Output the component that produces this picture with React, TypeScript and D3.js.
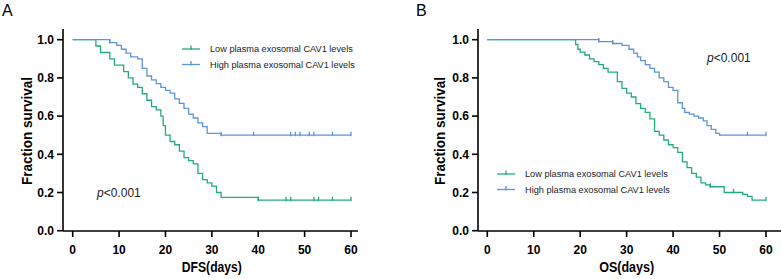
import React from "react";
import * as d3 from "d3";

// ---------- data ----------
const xTicks = [0, 10, 20, 30, 40, 50, 60];
const yTicks = [0, 0.2, 0.4, 0.6, 0.8, 1.0];

// Panel A (DFS)
const lowA_steps: [number, number][] = [
  [5, 0.967], [6, 0.933], [8, 0.9], [9, 0.867], [11, 0.833], [12, 0.8], [13, 0.767],
  [14, 0.75], [15, 0.717], [16, 0.683], [17, 0.65], [18, 0.633], [19, 0.6], [19.5, 0.55],
  [20, 0.5], [21, 0.467], [22, 0.45], [23, 0.417], [24, 0.383], [25, 0.367], [26, 0.35],
  [27, 0.3], [28, 0.267], [29, 0.25], [30, 0.233], [31, 0.2], [32, 0.175], [40, 0.16],
];
const lowA_censor = [40, 46, 47, 52, 53, 56, 60];
const highA_steps: [number, number][] = [
  [8, 0.985], [9.5, 0.97], [10.5, 0.95], [11.5, 0.93], [12.5, 0.91], [14, 0.9], [15, 0.85],
  [16, 0.81], [17, 0.79], [18, 0.77], [19, 0.75], [20, 0.735], [21, 0.72], [22, 0.69],
  [23, 0.667], [24, 0.64], [25, 0.61], [26, 0.59], [27, 0.565], [28, 0.545], [29, 0.51],
  [32, 0.5],
];
const highA_censor = [8, 32, 39, 47, 48, 49, 51, 52, 56, 60];

// Panel B (OS)
const lowB_steps: [number, number][] = [
  [19, 0.975], [19.5, 0.95], [20, 0.935], [21, 0.92], [22, 0.9], [23, 0.885], [24, 0.87],
  [25, 0.85], [26, 0.83], [28, 0.78], [29, 0.745], [30, 0.72], [31, 0.7], [32, 0.665],
  [33, 0.64], [34, 0.62], [35, 0.585], [36, 0.52], [37, 0.5], [38, 0.475], [39, 0.45],
  [40, 0.435], [41, 0.41], [42, 0.36], [43, 0.33], [44, 0.3], [45, 0.28], [46, 0.25],
  [47, 0.24], [48, 0.23], [51, 0.2], [55, 0.19], [56, 0.18], [57, 0.16],
];
const lowB_censor = [48, 53, 60];
const highB_steps: [number, number][] = [
  [24, 0.99], [27, 0.98], [29, 0.97], [30.5, 0.95], [31.5, 0.93], [32.3, 0.91], [33, 0.89],
  [34, 0.87], [35, 0.85], [36, 0.83], [37, 0.8], [38, 0.78], [39, 0.75], [40, 0.735],
  [41, 0.67], [42, 0.64], [42.5, 0.62], [43.5, 0.61], [44.5, 0.6], [45.5, 0.59],
  [46.5, 0.575], [47.3, 0.55], [48.2, 0.53], [49.2, 0.51], [50, 0.5],
];
const highB_censor = [24, 27, 56, 60];

const legendLabels = ["Low plasma exosomal CAV1 levels", "High plasma exosomal CAV1 levels"];
const GREEN = "#22ad78";
const BLUE = "#5e94da";
const FONT = "'Liberation Sans', Arial, sans-serif";

function survAt(steps: [number, number][], t: number) {
  let v = 1;
  for (const [s, val] of steps) if (s <= t) v = val;
  return v;
}

interface PanelProps {
  letter: string;
  letterX: number;
  axisX: number;
  x0: number;
  x60: number;
  axisEnd: number;
  xTitle: string;
  xTitleLen: number;
  yTitleX: number;
  curves: { steps: [number, number][]; censor: number[]; color: string }[];
  legendX: number;
  legendY: number;
  pX: number;
  pY: number;
}

function Panel(p: PanelProps) {
  const x = d3.scaleLinear().domain([0, 60]).range([p.x0, p.x60]);
  const y = d3.scaleLinear().domain([0, 1]).range([230.7, 39.7]);
  const line = d3
    .line<[number, number]>()
    .x((d) => x(d[0]))
    .y((d) => y(d[1]))
    .curve(d3.curveStepAfter);
  const axisY = 231;
  const yTop = 29;
  const midX = (x(0) + x(60)) / 2;
  return (
    <g>
      <text x={p.letterX} y={16} fontSize={16} fontFamily={FONT}>{p.letter}</text>
      {p.curves.map((c, i) => {
        const pts: [number, number][] = [[0, 1], ...c.steps, [60, c.steps[c.steps.length - 1][1]]];
        return (
          <g key={i}>
            <path d={line(pts) || ""} fill="none" stroke={c.color} strokeWidth={1.3} />
            {c.censor.map((t, j) => (
              <line key={j} x1={x(t)} x2={x(t)} y1={y(survAt(c.steps, t)) - 3.5} y2={y(survAt(c.steps, t)) + 1}
                stroke={c.color} strokeWidth={1.3} />
            ))}
          </g>
        );
      })}
      {/* axes */}
      <line x1={p.axisX} x2={p.axisX} y1={yTop} y2={axisY} stroke="#000" strokeWidth={1.6} />
      <line x1={p.axisX} x2={p.axisEnd} y1={axisY} y2={axisY} stroke="#000" strokeWidth={1.6} />
      {yTicks.map((t) => (
        <g key={t}>
          <line x1={p.axisX - 6} x2={p.axisX} y1={y(t)} y2={y(t)} stroke="#000" strokeWidth={1.6} />
          <text x={p.axisX - 9} y={y(t) + 4.3} fontSize={12} fontWeight="bold" textAnchor="end" fontFamily={FONT}>
            {t.toFixed(1)}
          </text>
        </g>
      ))}
      {xTicks.map((t) => (
        <g key={t}>
          <line x1={x(t)} x2={x(t)} y1={axisY} y2={axisY + 6} stroke="#000" strokeWidth={1.6} />
          <text x={x(t)} y={253.5} fontSize={12} fontWeight="bold" textAnchor="middle" fontFamily={FONT}>
            {t}
          </text>
        </g>
      ))}
      <text x={midX} y={272} fontSize={14} fontWeight="bold" textAnchor="middle" fontFamily={FONT}
        textLength={p.xTitleLen} lengthAdjust="spacingAndGlyphs">{p.xTitle}</text>
      <text transform={`translate(${p.yTitleX},131) rotate(-90)`} fontSize={14} fontWeight="bold"
        textAnchor="middle" fontFamily={FONT} textLength={108} lengthAdjust="spacingAndGlyphs">
        Fraction survival
      </text>
      {/* legend */}
      {p.curves.map((c, i) => {
        const ly = p.legendY + i * 15.5;
        return (
          <g key={i}>
            <line x1={p.legendX} x2={p.legendX + 18} y1={ly} y2={ly} stroke={c.color} strokeWidth={1.3} />
            <line x1={p.legendX + 9} x2={p.legendX + 9} y1={ly - 3.5} y2={ly + 1} stroke={c.color} strokeWidth={1.3} />
            <text x={p.legendX + 28} y={ly + 3.3} fontSize={9.2} fontFamily={FONT} fill="#222">{legendLabels[i]}</text>
          </g>
        );
      })}
      <text x={p.pX} y={p.pY} fontSize={12} fontFamily={FONT} fill="#222">
        <tspan fontStyle="italic">p</tspan>&lt;0.001
      </text>
    </g>
  );
}

export default function App() {
  return (
    <div style={{ position: "absolute", left: 0, top: 0 }}>
      <svg width={782} height={279} style={{ display: "block", background: "#fff" }}>
        <Panel
          letter="A" letterX={2} axisX={63} x0={72.7} x60={351} axisEnd={358}
          xTitle="DFS(days)" xTitleLen={60} yTitleX={32}
          curves={[
            { steps: lowA_steps, censor: lowA_censor, color: GREEN },
            { steps: highA_steps, censor: highA_censor, color: BLUE },
          ]}
          legendX={182} legendY={49} pX={97} pY={197}
        />
        <Panel
          letter="B" letterX={416} axisX={478} x0={487.3} x60={766} axisEnd={781}
          xTitle="OS(days)" xTitleLen={55} yTitleX={445}
          curves={[
            { steps: lowB_steps, censor: lowB_censor, color: GREEN },
            { steps: highB_steps, censor: highB_censor, color: BLUE },
          ]}
          legendX={497} legendY={174} pX={707} pY={62}
        />
      </svg>
    </div>
  );
}
